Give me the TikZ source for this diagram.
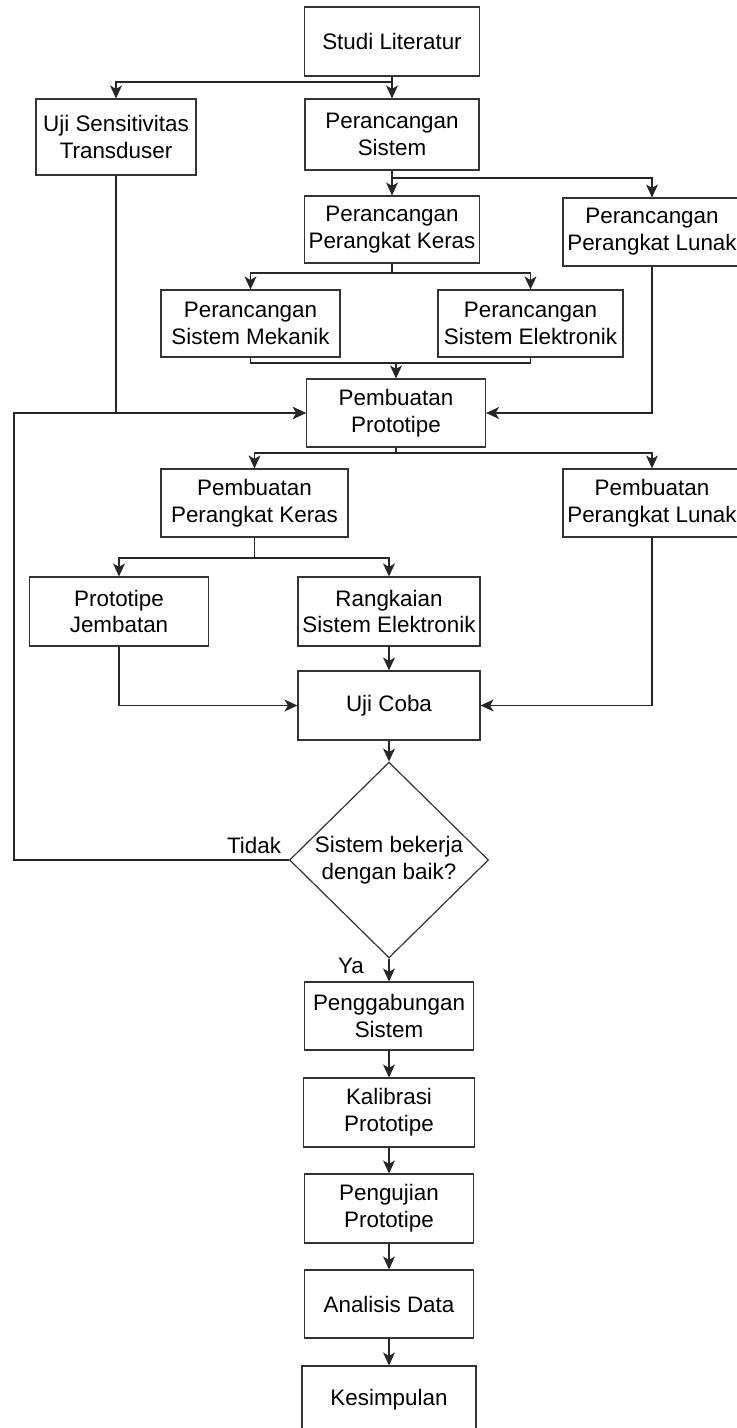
\documentclass[tikz,border=0pt]{standalone}
\usepackage{fontspec}
\setmainfont{Liberation Sans}
\usetikzlibrary{arrows.meta,shapes.geometric}

\begin{document}
\begin{tikzpicture}[x=0.5pt, y=-0.5pt,
    every node/.style={font=\fontsize{11.2}{13.4}\selectfont, align=center},
    box/.style={draw=black!80, line width=0.6pt, rectangle, inner sep=2pt},
    decision/.style={draw=black!80, line width=0.6pt, diamond, inner sep=0pt, minimum width=99.5pt, minimum height=94pt},
    line/.style={draw=black!85, line width=0.6pt},
    arr/.style={line, -{Stealth[length=6.5pt, width=6pt, inset=1.8pt]}}]
  \useasboundingbox (0,0) rectangle (736,1428);

  % perancangan
  \node[box, minimum width=87.5pt, minimum height=34.5pt] (studi) at (392,41.5) {Studi Literatur};
  \node[box, minimum width=80pt, minimum height=38pt] (ujisens) at (116,137) {Uji Sensitivitas\\Transduser};
  \node[box, minimum width=87pt, minimum height=35.5pt] (psistem) at (392,134.5) {Perancangan\\Sistem};
  \node[box, minimum width=86.5pt, minimum height=33.5pt] (pkeras) at (392,229.5) {Perancangan\\Perangkat Keras};
  \node[box, minimum width=89pt, minimum height=34pt] (plunak) at (652,232) {Perancangan\\Perangkat Lunak};
  \node[box, minimum width=89.5pt, minimum height=33.5pt] (pmekanik) at (250.5,323.5) {Perancangan\\Sistem Mekanik};
  \node[box, minimum width=92.5pt, minimum height=33.5pt] (pelektronik) at (530.5,323.5) {Perancangan\\Sistem Elektronik};

  % pembuatan
  \node[box, minimum width=89.5pt, minimum height=34pt] (prototipe) at (396,413) {Pembuatan\\Prototipe};
  \node[box, minimum width=93.5pt, minimum height=34pt] (bkeras) at (254.5,503) {Pembuatan\\Perangkat Keras};
  \node[box, minimum width=89pt, minimum height=34pt] (blunak) at (652,503) {Pembuatan\\Perangkat Lunak};
  \node[box, minimum width=89.5pt, minimum height=34.5pt] (jembatan) at (119,611.5) {Prototipe\\Jembatan};
  \node[box, minimum width=91pt, minimum height=34.5pt] (rangkaian) at (389,611.5) {Rangkaian\\Sistem Elektronik};
  \node[box, minimum width=91pt, minimum height=34.5pt] (ujicoba) at (389,705.5) {Uji Coba};
  \node[decision] (cek) at (389,860) {Sistem bekerja\\dengan baik?};
  \node (tidak) at (254,845) {Tidak};
  \node (ya) at (351,966) {Ya};

  % akhir
  \node[box, minimum width=84.5pt, minimum height=34pt] (gabung) at (389,1016) {Penggabungan\\Sistem};
  \node[box, minimum width=85.5pt, minimum height=34.5pt] (kalibrasi) at (389,1112.5) {Kalibrasi\\Prototipe};
  \node[box, minimum width=84.5pt, minimum height=34.5pt] (pengujian) at (389,1208.5) {Pengujian\\Prototipe};
  \node[box, minimum width=84.5pt, minimum height=34pt] (analisis) at (389,1304) {Analisis Data};
  \node[box, minimum width=87pt, minimum height=34pt] (kesimpulan) at (389,1400) {Kesimpulan};

  \coordinate (c1) at (392,82);
  \coordinate (c2) at (392,178);
  \coordinate (c3) at (392,273);
  \coordinate (c4) at (396,363);
  \coordinate (c5) at (396,453);
  \coordinate (c6) at (254.5,558);
  \coordinate (balik) at (14,413);

  \draw[arr] (studi) -- (psistem);
  \draw[arr] (c1) -| (ujisens.north);
  \draw[arr] (psistem) -- (pkeras);
  \draw[arr] (c2) -| (plunak.north);
  \draw[line] (pkeras.south) -- (c3);
  \draw[arr] (c3) -| (pmekanik.north);
  \draw[arr] (c3) -| (pelektronik.north);
  \draw[line] (pmekanik.south) |- (c4) -| (pelektronik.south);
  \draw[arr] (c4) -- (prototipe.north);
  \draw[arr] (ujisens.south) |- (prototipe.west);
  \draw[arr] (plunak.south) |- (prototipe.east);
  \draw[arr] (cek.west) -| (balik) -- (prototipe.west);

  \draw[line] (prototipe.south) -- (c5);
  \draw[arr] (c5) -| (bkeras.north);
  \draw[arr] (c5) -| (blunak.north);
  \draw[line] (bkeras.south) -- (c6);
  \draw[arr] (c6) -| (jembatan.north);
  \draw[arr] (c6) -| (rangkaian.north);
  \draw[arr] (jembatan.south) |- (ujicoba.west);
  \draw[arr] (rangkaian) -- (ujicoba);
  \draw[arr] (blunak.south) |- (ujicoba.east);
  \draw[arr] (ujicoba) -- (cek);

  \draw[arr] (cek) -- (gabung);
  \draw[arr] (gabung) -- (kalibrasi);
  \draw[arr] (kalibrasi) -- (pengujian);
  \draw[arr] (pengujian) -- (analisis);
  \draw[arr] (analisis) -- (kesimpulan);
\end{tikzpicture}
\end{document}
